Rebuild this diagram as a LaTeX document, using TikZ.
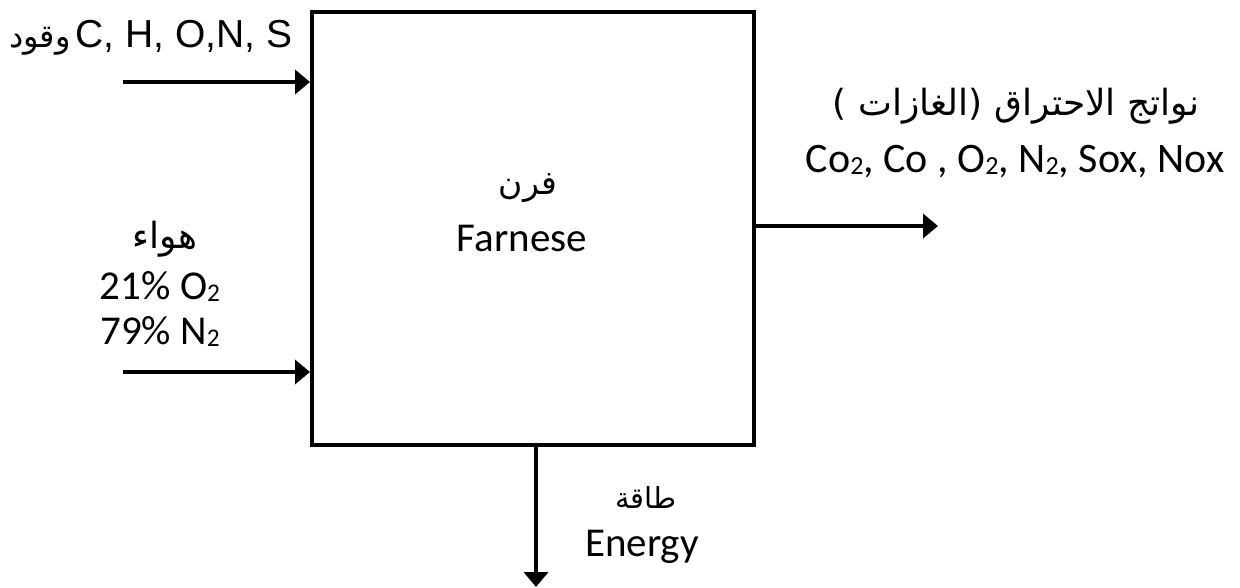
\documentclass[tikz,border=0pt]{standalone}
\usepackage{fontspec}
\setmainfont{Carlito}
\newfontfamily\arialfont{Liberation Sans}
\newfontfamily\arabicfont[Script=Arabic]{DejaVu Sans}
\TeXXeTstate=1
\usetikzlibrary{arrows.meta}
\newcommand\sbs[1]{\raisebox{-2pt}{\scalebox{0.62}{#1}}}
\begin{document}
\begin{tikzpicture}[x=1pt,y=-1pt,
  flow/.style={line width=4pt,-{Triangle[length=15pt,width=24pt]}},
  lbl/.style={inner sep=0pt,font=\fontsize{41}{48}\selectfont},
  arlbl/.style={inner sep=0pt}]
\useasboundingbox (0,0) rectangle (1240,588);
\node[draw,line width=4pt,minimum width=442pt,minimum height=433pt,inner sep=0pt,anchor=north west] (box) at (310,10) {};
% fuel
\node[inner sep=0pt,anchor=base west,font=\arialfont\fontsize{39}{44}\selectfont] (fuel) at (9,48) {{\arabicfont\fontsize{32}{36}\selectfont\beginR وقود\endR}\hspace{5pt}C, H, O,N, S};
\coordinate (fuelstart) at (123,82);
\draw[flow] (fuelstart) -- (box.west |- fuelstart);
% air
\node[arlbl,font=\arabicfont\fontsize{36}{40}\selectfont] (airar) at (165,239) {\beginR هواء\endR};
\node[lbl,anchor=base] (o2) at (160,299) {21\% O\sbs{2}};
\node[lbl,anchor=base] (n2) at (160,344) {79\% N\sbs{2}};
\coordinate (airstart) at (123,372);
\draw[flow] (airstart) -- (box.west |- airstart);
% furnace label
\node[arlbl,font=\arabicfont\fontsize{33}{38}\selectfont] (furar) at (528,188) {\beginR فرن\endR};
\node[lbl,anchor=base] (furen) at (522,252) {Farnese};
% output
\node[arlbl,anchor=base,font=\arabicfont\fontsize{36}{40}\selectfont] (outar) at (1016,116) {\beginR نواتج الاحتراق (الغازات )\endR};
\node[lbl,anchor=base,font=\fontsize{42}{48}\selectfont] (outen) at (1015,173) {Co\sbs{2}, Co , O\sbs{2}, N\sbs{2}, Sox, Nox};
\coordinate (outend) at (938,226);
\draw[flow] (box.east |- outend) -- (outend);
% energy
\coordinate (energyend) at (536,587);
\draw[flow] (box.south -| energyend) -- (energyend);
\node[arlbl,font=\arabicfont\fontsize{29}{32}\selectfont] (enar) at (646,497) {\beginR طاقة\endR};
\node[lbl,anchor=base] (enen) at (642,556) {Energy};
\end{tikzpicture}
\end{document}
